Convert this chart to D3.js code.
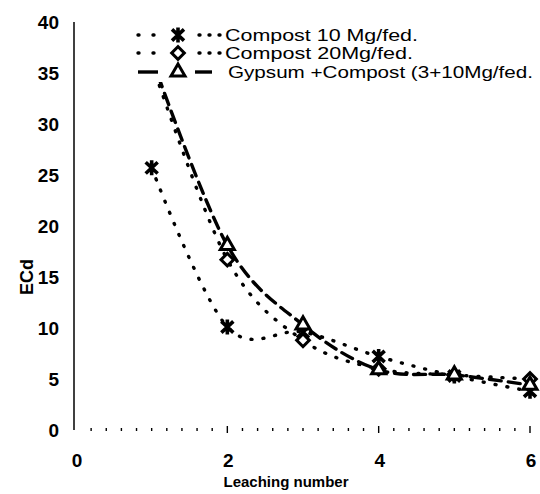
<!DOCTYPE html>
<html>
<head>
<meta charset="utf-8">
<script src="https://cdn.jsdelivr.net/npm/d3@7"></script>
<style>
  body { margin: 0; background: #fff; }
  text { font-family: Arial, "Liberation Sans", sans-serif; fill: #000; }
  .tick-label { font-size: 19px; font-weight: bold; }
  .legend-text { font-size: 17px; }
</style>
</head>
<body>
<div id="chart"></div>
<script>
// data
var leaching = [1, 2, 3, 4, 5, 6];
var compost10 = [25.7, 10.1, 9.6, 7.2, 5.3, 3.8];
var compost20 = [36.0, 16.7, 8.8, 6.0, 5.4, 5.0];
var gypsum = [36.5, 18.1, 10.3, 5.9, 5.4, 4.4];
var seriesNames = ['Compost 10 Mg/fed.', 'Compost 20Mg/fed.', 'Gypsum +Compost (3+10Mg/fed.'];
var xTicks = [0, 2, 4, 6];
var yTicks = [0, 5, 10, 15, 20, 25, 30, 35, 40];

var width = 540, height = 494;

var svg = d3.select('#chart').append('svg')
    .attr('width', width)
    .attr('height', height);

var x = d3.scaleLinear().domain([0, 6]).range([76, 530]);
var y = d3.scaleLinear().domain([0, 40]).range([430, 22]);

// marker shapes
function asterisk(r) {
    var a = r * 0.8, b = r * 0.75;
    return 'M0,' + (-r) + 'L0,' + r +
        'M' + (-a) + ',' + (-b) + 'L' + a + ',' + b +
        'M' + (-a) + ',' + b + 'L' + a + ',' + (-b);
}
var diamond = d3.symbol().type(d3.symbolSquare).size(80)();
var triangle = d3.symbol().type(d3.symbolTriangle).size(85)();

var series = [
    { name: seriesNames[0], values: compost10, dash: '1,11', marker: 'ast', len: 193 },
    { name: seriesNames[1], values: compost20, dash: '1,11', marker: 'dia', len: 188 },
    { name: seriesNames[2], values: gypsum, dash: '12,7', marker: 'tri', len: 305 }
];

function drawMarker(g, type) {
    if (type === 'ast') {
        g.append('path').attr('d', asterisk(7.5))
            .attr('fill', 'none').attr('stroke', '#000').attr('stroke-width', 3.6);
    } else if (type === 'dia') {
        g.append('path').attr('d', diamond).attr('transform', 'rotate(45)')
            .attr('fill', '#fff').attr('stroke', '#000').attr('stroke-width', 3);
    } else {
        g.append('path').attr('d', triangle)
            .attr('fill', '#fff').attr('stroke', '#000').attr('stroke-width', 3);
    }
}

// y axis: plain line, labels on the left
svg.append('line')
    .attr('x1', 74).attr('x2', 74)
    .attr('y1', y(40)).attr('y2', y(0))
    .attr('stroke', '#000').attr('stroke-width', 1.5);

svg.selectAll('.ylab')
    .data(yTicks)
    .enter().append('text')
    .attr('class', 'tick-label')
    .attr('x', 59)
    .attr('y', d => y(d))
    .attr('dy', '0.36em')
    .attr('text-anchor', 'end')
    .text(d => d);

// x axis: only little tick marks along the baseline
var minor = d3.range(1, 31).map(d => d / 5);
function isMajor(d) { return Math.abs(d / 2 - Math.round(d / 2)) < 1e-6; }
svg.selectAll('.xtick')
    .data(minor)
    .enter().append('line')
    .attr('x1', d => x(d)).attr('x2', d => x(d))
    .attr('y1', d => isMajor(d) ? y(0) - 4 : y(0) - 2)
    .attr('y2', d => isMajor(d) ? y(0) + 3 : y(0) + 1)
    .attr('stroke', '#000').attr('stroke-width', 1.4);

svg.selectAll('.xlab')
    .data(xTicks)
    .enter().append('text')
    .attr('class', 'tick-label')
    .attr('x', d => x(d) + 1)
    .attr('y', 467)
    .attr('text-anchor', 'middle')
    .text(d => d);

svg.append('text')
    .attr('x', 286).attr('y', 487)
    .attr('text-anchor', 'middle')
    .style('font-size', '15px').style('font-weight', 'bold')
    .text('Leaching number');

svg.append('text')
    .attr('transform', 'translate(33,277) rotate(-90)')
    .attr('text-anchor', 'middle')
    .style('font-size', '18px').style('font-weight', 'bold')
    .text('ECd');

// lines
var line = d3.line()
    .x((d, i) => x(leaching[i]))
    .y(d => y(d))
    .curve(d3.curveCardinal.tension(0));

series.forEach(s => {
    svg.append('path')
        .datum(s.values)
        .attr('d', line)
        .attr('fill', 'none')
        .attr('stroke', '#000')
        .attr('stroke-width', 3.4)
        .attr('stroke-dasharray', s.dash)
        .attr('stroke-linecap', 'round');
});

// markers (first point sits under the legend)
series.forEach(s => {
    s.values.forEach((v, i) => {
        if (i === 0 && s.marker !== 'ast') return;
        var g = svg.append('g').attr('transform', 'translate(' + x(leaching[i]) + ',' + y(v) + ')');
        drawMarker(g, s.marker);
    });
});

// legend with white background
var legend = svg.append('g');
legend.append('rect')
    .attr('x', 132).attr('y', 24)
    .attr('width', 408).attr('height', 58)
    .attr('fill', '#fff');

var rowY = [35, 53, 72];
series.forEach((s, i) => {
    var ry = rowY[i];
    var tri = s.marker === 'tri';
    legend.append('line')
        .attr('x1', 138).attr('x2', 160)
        .attr('y1', ry).attr('y2', ry)
        .attr('stroke', '#000').attr('stroke-width', 3.4)
        .attr('stroke-dasharray', tri ? '20,100' : '1,14')
        .attr('stroke-linecap', tri ? 'butt' : 'round');
    legend.append('line')
        .attr('x1', tri ? 195 : 199).attr('x2', 222)
        .attr('y1', ry).attr('y2', ry)
        .attr('stroke', '#000').attr('stroke-width', 3.4)
        .attr('stroke-dasharray', tri ? '17,100' : '1,9')
        .attr('stroke-linecap', tri ? 'butt' : 'round');
    var g = legend.append('g').attr('transform', 'translate(178,' + ry + ')');
    drawMarker(g, s.marker);
    legend.append('text')
        .attr('class', 'legend-text')
        .attr('x', tri ? 228 : 225)
        .attr('y', ry + 6)
        .attr('textLength', s.len)
        .attr('lengthAdjust', 'spacingAndGlyphs')
        .text(s.name);
});
</script>
</body>
</html>
